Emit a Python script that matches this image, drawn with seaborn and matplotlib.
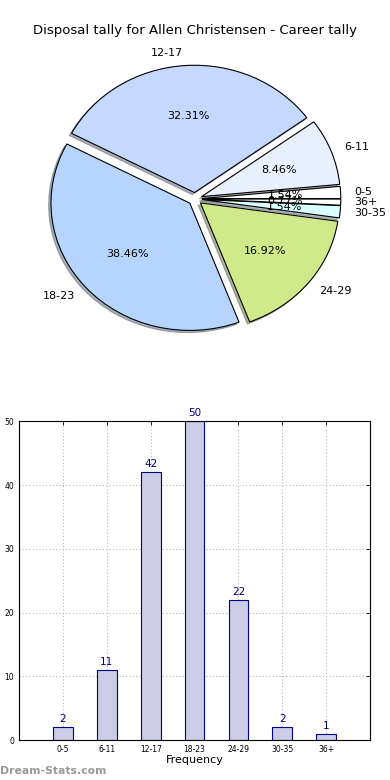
import pandas as pd
import seaborn as sns
import matplotlib
matplotlib.use("Agg")
import matplotlib.pyplot as plt

# disposal ranges and how many games fell into each
categories = ["0-5", "6-11", "12-17", "18-23", "24-29", "30-35", "36+"]
counts = [2, 11, 42, 50, 22, 2, 1]
slice_colors = ["#ffffff", "#e8f0fe", "#c5d9ff", "#b5d5ff", "#d0e98b", "#d9ffff", "#ffffff"]
title = "Disposal tally for Allen Christensen - Career tally"

df = pd.DataFrame({"range": categories, "games": counts})

sns.set_style("white")
plt.rcParams["font.family"] = ["DejaVu Sans"]
plt.rcParams["text.color"] = "black"
plt.rcParams["xtick.color"] = "black"
plt.rcParams["ytick.color"] = "black"
plt.rcParams["axes.labelcolor"] = "black"

fig = plt.figure(figsize=(3.9, 7.8), dpi=100)

# --- pie ---
ax_pie = fig.add_axes([0.055, 0.541, 0.89, 0.408])
wedges, texts, autotexts = ax_pie.pie(
    df["games"], labels=df["range"], colors=slice_colors,
    explode=[0.05] * len(df), shadow={"ox": -0.012, "oy": -0.012, "shade": 0.55},
    startangle=0, autopct="%1.2f%%",
    wedgeprops={"edgecolor": "black", "linewidth": 0.8},
    textprops={"fontsize": 8, "color": "black"})
ax_pie.set_aspect("auto")
ax_pie.set_xlim(-1.25, 1.25)
ax_pie.set_ylim(-1.25, 1.25)
fig.text(0.5, 0.961, title, ha="center", va="center", fontsize=9.5, color="black")

# --- bars ---
ax_bar = fig.add_axes([0.049, 0.051, 0.9, 0.409])
sns.barplot(data=df, x="range", y="games", ax=ax_bar, color="#ccccE6",
            edgecolor="#00008b", linewidth=0.8, width=0.45, saturation=1)
for i, v in enumerate(df["games"]):
    ax_bar.text(i, v + 0.5, str(v), ha="center", va="bottom", fontsize=7.5, color="#000080")
ax_bar.set_xlim(-1, 7)
ax_bar.set_ylim(0, 50)
ax_bar.set_yticks([0, 10, 20, 30, 40, 50])
ax_bar.grid(True, linestyle=(0, (1, 2)), color="#b8b8b8", linewidth=0.8)
ax_bar.set_axisbelow(True)
ax_bar.tick_params(labelsize=5.5, direction="in", top=True, right=True, length=3, width=0.6)
ax_bar.set_xlabel("Frequency", fontsize=8, labelpad=1)
ax_bar.set_ylabel("")
for s in ax_bar.spines.values():
    s.set_color("black")
    s.set_linewidth(0.8)

fig.text(0.0, 0.012, "Dream-Stats.com", fontsize=7.8, color="#999999", fontweight="bold", ha="left", va="center")

fig.savefig("out.png", dpi=100)
